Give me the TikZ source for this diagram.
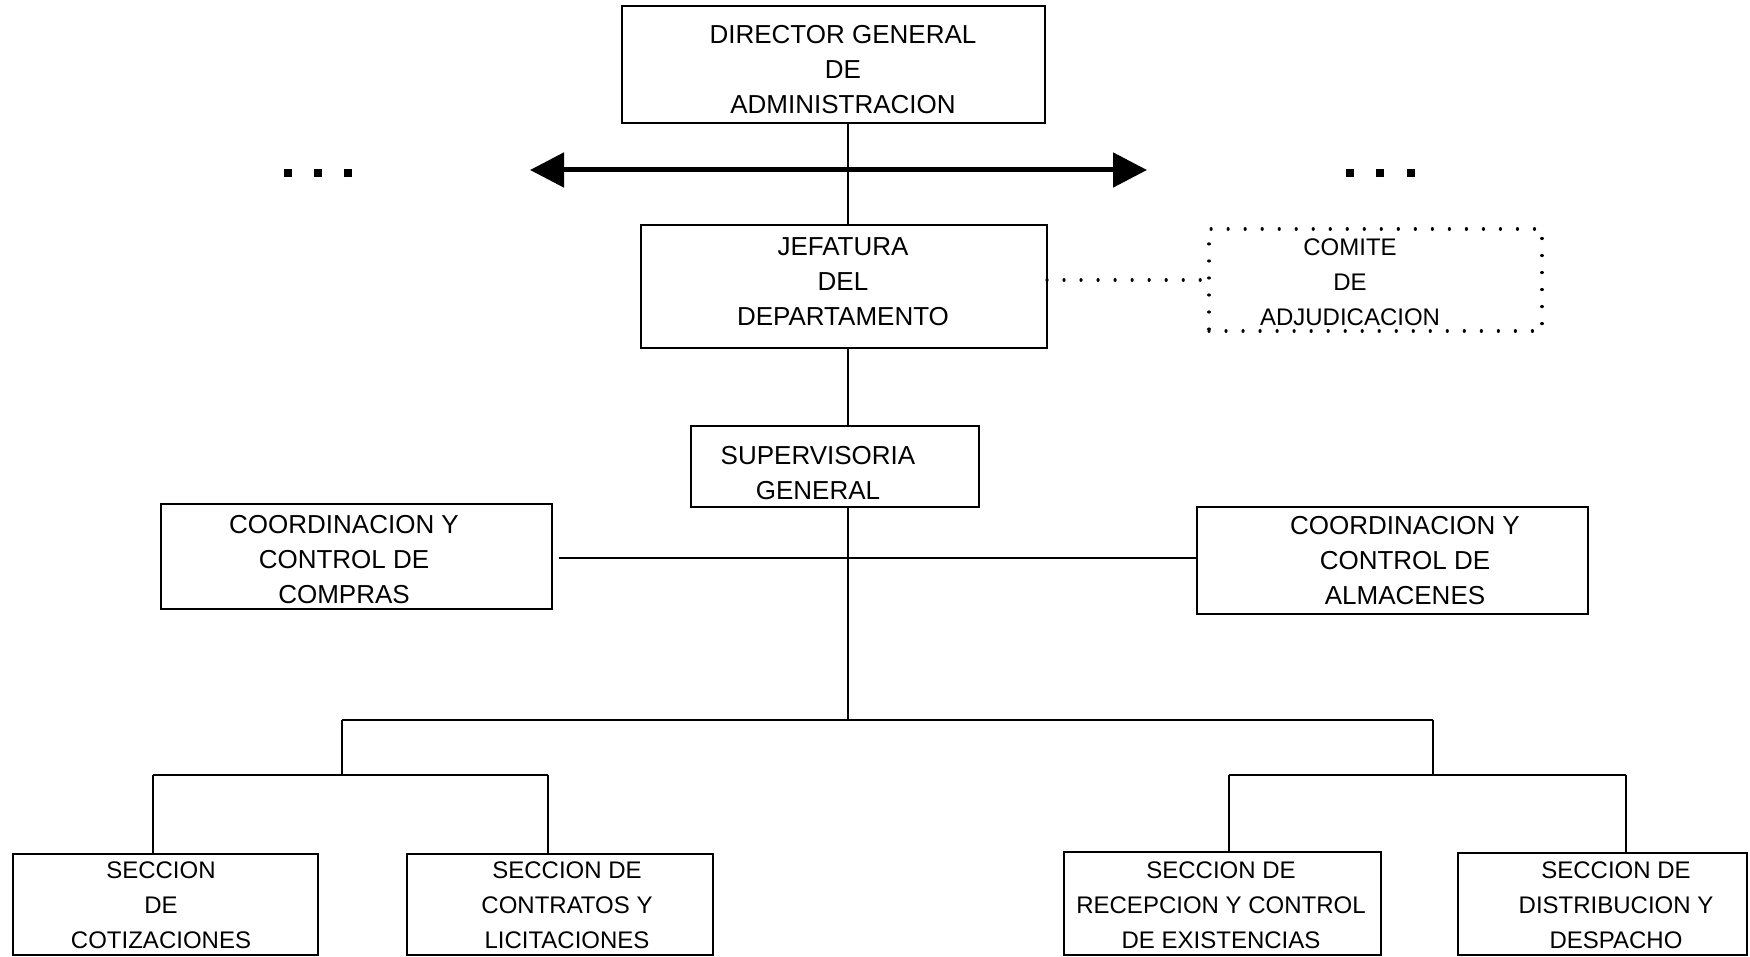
\documentclass[tikz,border=0pt]{standalone}
\usepackage{fontspec}
\setmainfont{Liberation Sans}
\usetikzlibrary{arrows.meta}
\tikzset{
  orgbox/.style={draw, line width=1.1pt, inner sep=0pt, outer sep=0pt},
  dotbox/.style={orgbox, line cap=round, dash pattern=on 0.01pt off 8.5pt, line width=1.6pt},
  biglbl/.style={align=center, font=\fontsize{13}{17.5}\selectfont, inner sep=0pt},
  smllbl/.style={align=center, font=\fontsize{12}{17.5}\selectfont, inner sep=0pt},
  conn/.style={line width=1.1pt},
  dotconn/.style={line width=1.6pt, line cap=round, dash pattern=on 0.01pt off 8.5pt},
  bigarrow/.style={line width=2.5pt, {Triangle[length=17pt,width=17pt]}-{Triangle[length=17pt,width=17pt]}},
  sq/.style={fill, inner sep=0pt, minimum size=4pt}
}
\newcommand\obox[6][]{\node[orgbox,#1,minimum width={(#4-#2)*0.5pt},minimum height={(#5-#3)*0.5pt}] (#6) at ({(#2+#4)/2},{(#3+#5)/2}) {};}
\begin{document}
\begin{tikzpicture}[x=0.5pt,y=-0.5pt]
\useasboundingbox (0,0) rectangle (1750,957);
% boxes
\obox{622}{6}{1045}{123}{dir}
\obox{641}{225}{1047}{348}{jef}
\obox[dotbox]{1209}{229}{1542}{331}{com}
\obox{691}{426}{979}{507}{sup}
\obox{161}{504}{552}{609}{cmp}
\obox{1197}{507}{1588}{614}{alm}
\obox{13}{854}{318}{955}{sa}
\obox{407}{854}{713}{955}{sb}
\obox{1064}{852}{1381}{955}{sc}
\obox{1458}{853}{1747}{955}{sd}
% texts
\node[biglbl] (dirT) at (843,70) {DIRECTOR GENERAL\\DE\\ADMINISTRACION};
\node[biglbl] (jefT) at (843,282) {JEFATURA\\DEL\\DEPARTAMENTO};
\node[smllbl] (comT) at (1350,282) {COMITE\\DE\\ADJUDICACION};
\node[biglbl] (supT) at (818,473) {SUPERVISORIA\\GENERAL};
\node[biglbl] (cmpT) at (344,560) {COORDINACION Y\\CONTROL DE\\COMPRAS};
\node[biglbl] (almT) at (1405,561) {COORDINACION Y\\CONTROL DE\\ALMACENES};
\node[smllbl] (saT) at (161,905) {SECCION\\DE\\COTIZACIONES};
\node[smllbl] (sbT) at (567,905) {SECCION DE\\CONTRATOS Y\\LICITACIONES};
\node[smllbl] (scT) at (1221,905) {SECCION DE\\RECEPCION Y CONTROL\\DE EXISTENCIAS};
\node[smllbl] (sdT) at (1616,905) {SECCION DE\\DISTRIBUCION Y\\DESPACHO};
% coordinates
\coordinate (v) at (848,0);
\coordinate (al) at (530,170);
\coordinate (ar) at (1147,170);
\coordinate (dl) at (0,280);
\coordinate (hl) at (0,558);
\coordinate (bus) at (848,720);
\coordinate (busL) at (342,720);
\coordinate (busR) at (1433,720);
\coordinate (subL) at (342,775);
\coordinate (subR) at (1433,775);
\coordinate (d1) at (153,775);
\coordinate (d2) at (548,775);
\coordinate (d3) at (1229,775);
\coordinate (d4) at (1626,775);
% connectors
\draw[conn] (v |- dir.south) -- (v |- jef.north);
\draw[bigarrow] (al) -- (ar);
\draw[dotconn] (jef.east |- dl) -- (com.west |- dl);
\draw[conn] (v |- jef.south) -- (v |- sup.north);
\draw[conn] (v |- sup.south) -- (bus);
\draw[conn, shorten <=3.5pt] (cmp.east |- hl) -- (alm.west |- hl);
\draw[conn] (busL) -- (busR);
\draw[conn] (busL) -- (subL);
\draw[conn] (busR) -- (subR);
\draw[conn] (d1) -- (d2);
\draw[conn] (d3) -- (d4);
\draw[conn] (d1) -- (d1 |- sa.north);
\draw[conn] (d2) -- (d2 |- sb.north);
\draw[conn] (d3) -- (d3 |- sc.north);
\draw[conn] (d4) -- (d4 |- sd.north);
% ellipsis dots
\node[sq] (l1) at (288,173) {};
\node[sq] (l2) at (318,173) {};
\node[sq] (l3) at (348,173) {};
\node[sq] (r1) at (1350,173) {};
\node[sq] (r2) at (1380,173) {};
\node[sq] (r3) at (1411,173) {};
\end{tikzpicture}
\end{document}
